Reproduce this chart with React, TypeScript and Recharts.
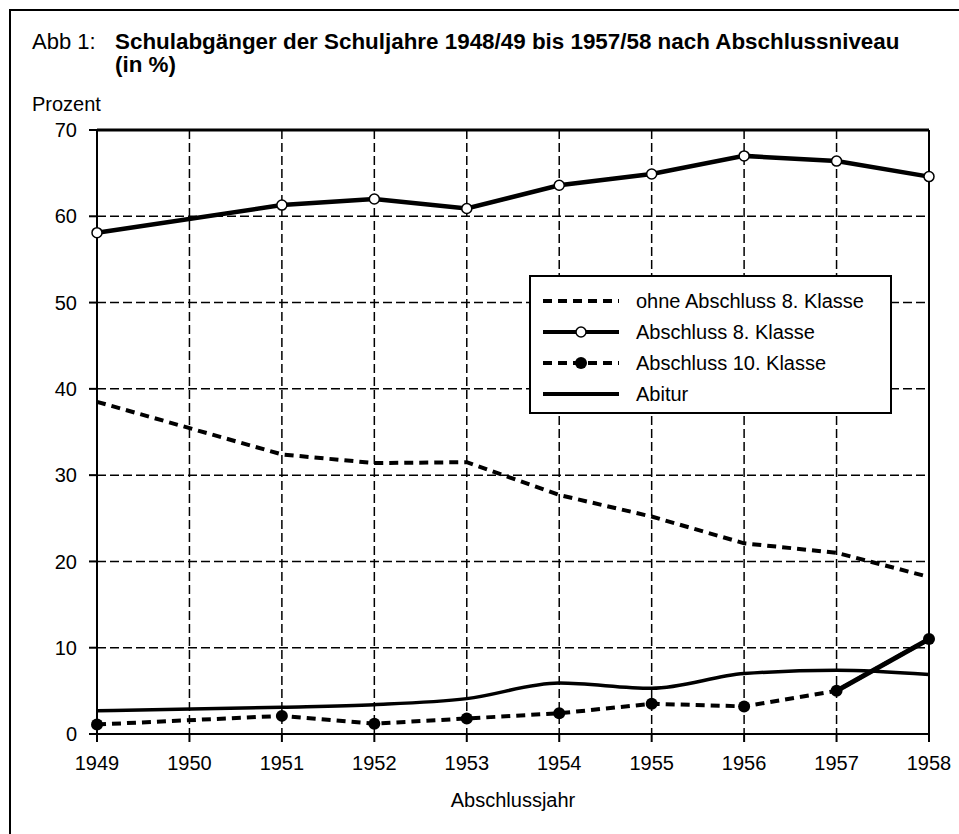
import React from "react";
import {
  LineChart, Line, XAxis, YAxis, CartesianGrid, ReferenceLine, Legend,
} from "recharts";

// Schulabgänger nach Abschlussniveau, in Prozent (1950: kein Wert)
const years = [1949, 1950, 1951, 1952, 1953, 1954, 1955, 1956, 1957, 1958];
const ohneAbschluss = [38.5, null, 32.4, 31.4, 31.5, 27.7, 25.2, 22.1, 21.0, 18.2];
const abschluss8 = [58.1, null, 61.3, 62.0, 60.9, 63.6, 64.9, 67.0, 66.4, 64.6];
const abschluss10 = [1.1, null, 2.1, 1.2, 1.8, 2.4, 3.5, 3.2, 5.0, 11.0];
const abitur = [2.7, null, 3.1, 3.4, 4.1, 5.9, 5.3, 7.0, 7.4, 6.9];
const yTicks = [0, 10, 20, 30, 40, 50, 60, 70];

const legendItems = [
  { label: "ohne Abschluss 8. Klasse", dash: "9 6", marker: "none" },
  { label: "Abschluss 8. Klasse", dash: undefined, marker: "open" },
  { label: "Abschluss 10. Klasse", dash: "9 6", marker: "filled" },
  { label: "Abitur", dash: undefined, marker: "none" },
];

const FONT = '"Liberation Sans", Arial, Helvetica, sans-serif';

const data = years.map((year, i) => ({
  year,
  ohne: ohneAbschluss[i],
  a8: abschluss8[i],
  a10: abschluss10[i],
  abitur: abitur[i],
}));

function LegendBox() {
  return (
    <div style={{
      width: 363,
      height: 139,
      boxSizing: "border-box",
      border: "2px solid #000",
      background: "#fff",
      paddingTop: 8,
      paddingLeft: 12,
      fontFamily: FONT,
      fontSize: 20,
      color: "#000",
    }}>
      {legendItems.map((item) => (
        <div key={item.label} style={{ display: "flex", alignItems: "center", height: 31 }}>
          <svg width={76} height={16} style={{ display: "block" }}>
            <line x1={0} y1={8} x2={76} y2={8} stroke="#000" strokeWidth={4} strokeDasharray={item.dash} />
            {item.marker === "open" && (
              <circle cx={38} cy={8} r={5} fill="#fff" stroke="#000" strokeWidth={1.5} />
            )}
            {item.marker === "filled" && <circle cx={38} cy={8} r={6} fill="#000" />}
          </svg>
          <span style={{ marginLeft: 17, lineHeight: "20px" }}>{item.label}</span>
        </div>
      ))}
    </div>
  );
}

const tickStyle = { fill: "#000", fontSize: 20, fontFamily: FONT };

const titleLine = {
  position: "absolute" as const,
  left: 115,
  fontSize: 22.4,
  lineHeight: "22px",
  height: 22,
  fontWeight: 700,
  whiteSpace: "nowrap" as const,
};

export default function App() {
  return (
    <div style={{
      position: "absolute", left: 0, top: 0, width: 959, height: 834,
      overflow: "hidden", background: "#fff", fontFamily: FONT, color: "#000",
    }}>
      <div style={{
        position: "absolute", left: 9, top: 9, width: 960, height: 840,
        borderTop: "2px solid #000", borderLeft: "2px solid #000",
      }} />
      <div style={{ position: "absolute", left: 32, top: 31, fontSize: 22, lineHeight: "22px" }}>
        Abb 1:
      </div>
      <div style={{ ...titleLine, top: 31 }}>
        Schulabgänger der Schuljahre 1948/49 bis 1957/58 nach Abschlussniveau
      </div>
      <div style={{ ...titleLine, top: 54 }}>
        (in %)
      </div>
      <div style={{ position: "absolute", left: 32, top: 94, fontSize: 20, lineHeight: "20px" }}>
        Prozent
      </div>
      <div style={{
        position: "absolute", left: 413, width: 200, textAlign: "center",
        top: 790, fontSize: 20, lineHeight: "20px",
      }}>
        Abschlussjahr
      </div>

      <div style={{ position: "absolute", left: 0, top: 0 }}>
        <LineChart width={959} height={834} data={data}
          margin={{ top: 130, right: 30, left: 37, bottom: 60 }}>
          <CartesianGrid stroke="#000" strokeWidth={1.5} strokeDasharray="9 4" />
          <XAxis
            dataKey="year"
            type="number"
            domain={[1949, 1958]}
            ticks={years}
            interval={0}
            height={40}
            tick={tickStyle}
            tickSize={8}
            tickMargin={14}
            axisLine={{ stroke: "#000", strokeWidth: 2 }}
            tickLine={{ stroke: "#000", strokeWidth: 2 }}
          />
          <YAxis
            domain={[0, 70]}
            ticks={yTicks}
            interval={0}
            width={60}
            tick={tickStyle}
            tickSize={8}
            tickMargin={12}
            axisLine={{ stroke: "#000", strokeWidth: 2 }}
            tickLine={{ stroke: "#000", strokeWidth: 2 }}
          />
          <ReferenceLine y={70} stroke="#000" strokeWidth={3} />
          <ReferenceLine x={1958} stroke="#000" strokeWidth={2} />
          <Legend
            layout="vertical"
            align="center"
            verticalAlign="middle"
            content={() => <LegendBox />}
            wrapperStyle={{ left: 529, top: 275, width: 363, height: 139 }}
          />
          <Line
            type="monotone"
            dataKey="abitur"
            stroke="#000"
            strokeWidth={3.5}
            dot={false}
            connectNulls
            isAnimationActive={false}
          />
          <Line
            type="linear"
            dataKey="a10"
            stroke="#000"
            strokeWidth={4}
            strokeDasharray="9 6"
            dot={{ r: 6, fill: "#000", stroke: "#000", strokeWidth: 0, strokeDasharray: "none" }}
            connectNulls
            isAnimationActive={false}
          />
          <Line
            type="linear"
            dataKey={(d: any) => (d.year >= 1957 ? d.a10 : null)}
            stroke="#000"
            strokeWidth={5}
            dot={false}
            isAnimationActive={false}
          />
          <Line
            type="linear"
            dataKey="ohne"
            stroke="#000"
            strokeWidth={4}
            strokeDasharray="9 6"
            dot={false}
            connectNulls
            isAnimationActive={false}
          />
          <Line
            type="linear"
            dataKey="a8"
            stroke="#000"
            strokeWidth={4.5}
            dot={{ r: 5, fill: "#fff", stroke: "#000", strokeWidth: 1.5, strokeDasharray: "none" }}
            connectNulls
            isAnimationActive={false}
          />
        </LineChart>
      </div>
    </div>
  );
}
